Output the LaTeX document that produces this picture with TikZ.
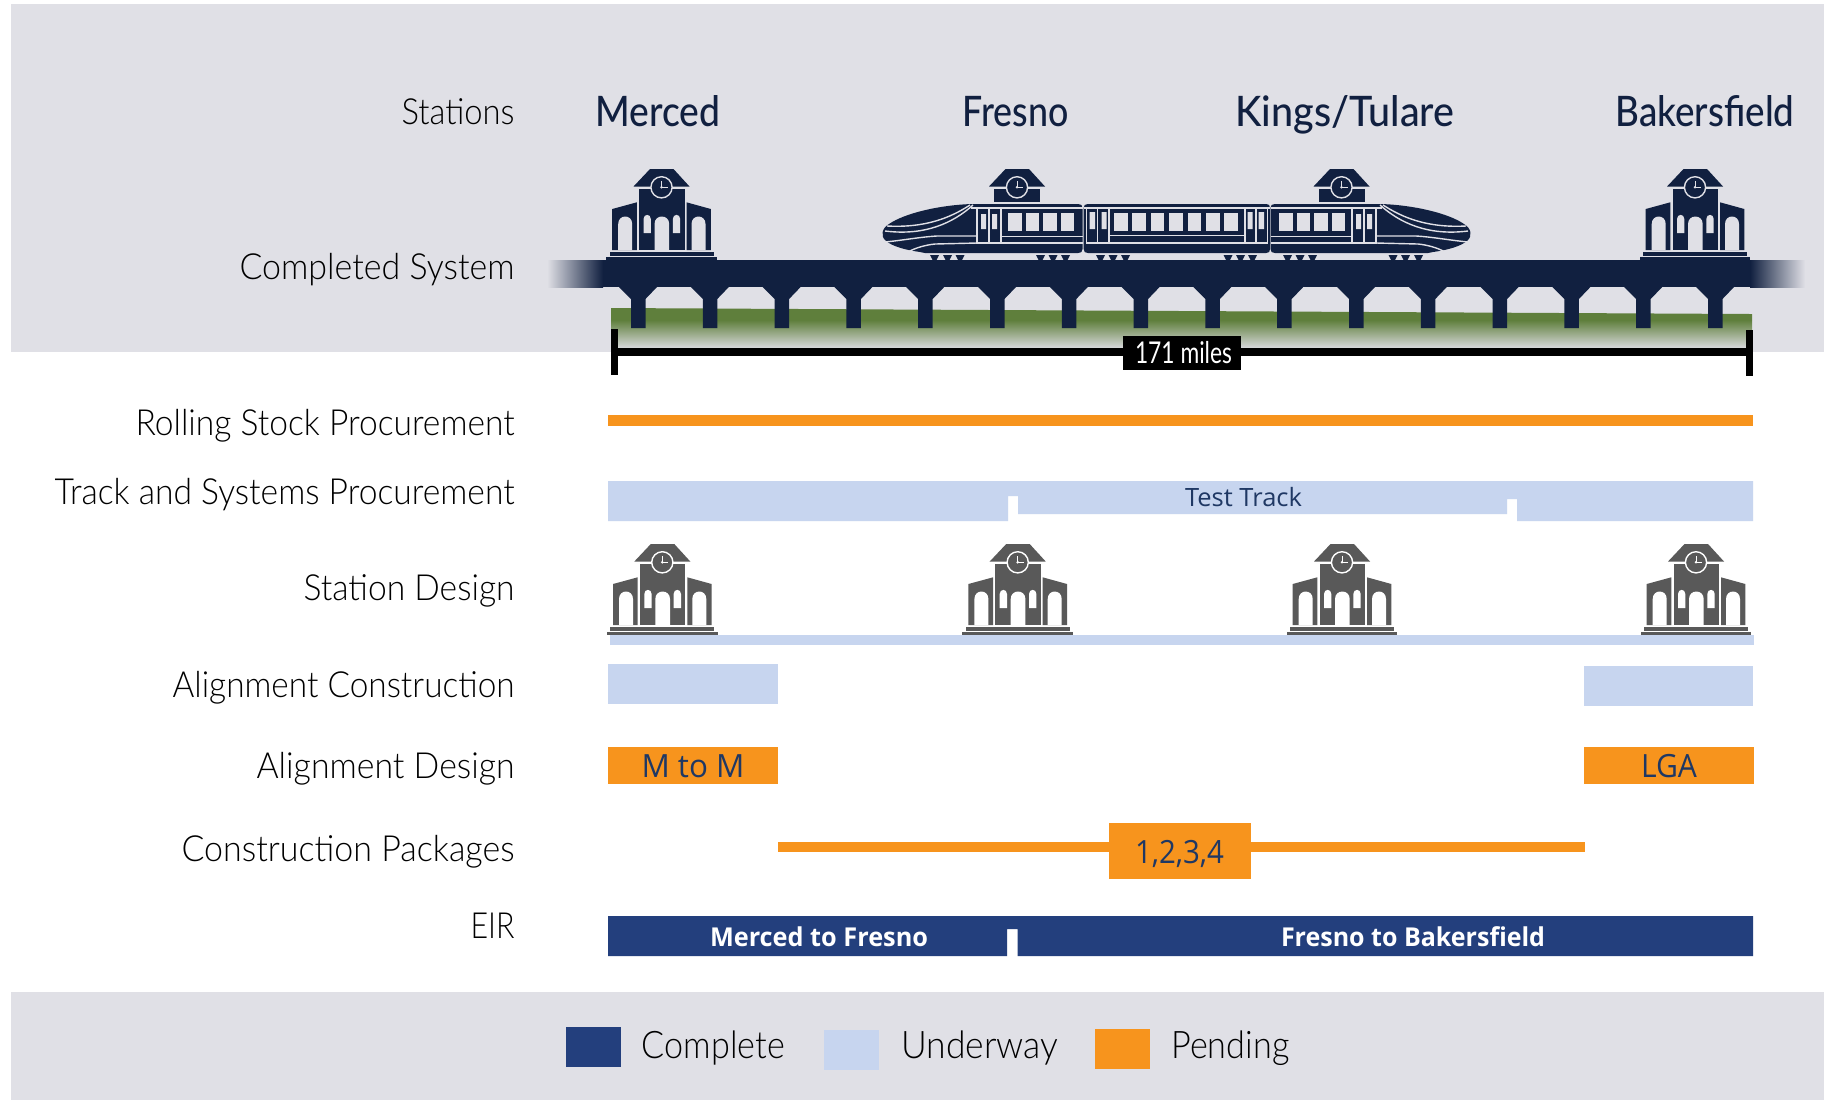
\documentclass[tikz,border=0pt]{standalone}
\usepackage{fontspec}
\usepackage{graphicx}
\newfontfamily\labf{Lato Light}
\newfontfamily\headf{Lato Medium}
\newfontfamily\midf{Lato}
\newfontfamily\barf{Open Sans}
\definecolor{band}{HTML}{E0E0E6}
\definecolor{navy}{HTML}{112040}
\definecolor{complete}{HTML}{233F7D}
\definecolor{underway}{HTML}{C7D5EF}
\definecolor{pending}{HTML}{F7941D}
\definecolor{icongray}{HTML}{595959}
\definecolor{grass}{HTML}{5F7F3C}
\definecolor{ink}{HTML}{1F3864}
\newlength{\pxu}\setlength{\pxu}{0.5pt}
\newcommand{\fitw}[2]{\resizebox{#1\pxu}{\height}{#2}}
\tikzset{
  lbl/.style={anchor=base east,inner sep=0pt,text=black,font=\labf\fontsize{18}{20}\selectfont},
  head/.style={anchor=base west,inner sep=0pt,text=navy,font=\headf\fontsize{21}{24}\selectfont},
  leg/.style={anchor=base west,inner sep=0pt,text=black,font=\labf\fontsize{19}{22}\selectfont},
  bartxt/.style={anchor=base,inner sep=0pt,text=ink,font=\barf\fontsize{16}{18}\selectfont},
  eirtxt/.style={anchor=base,inner sep=0pt,text=white,font=\barf\bfseries\fontsize{13}{15}\selectfont},
  hl/.style={draw=band,line width=0.7pt,fill=none}
}
% clock tower head: #1 body colour, #2 detail colour
\newcommand{\stationtop}[2]{%
  \fill[#1] (-11.5,-91) -- (12,-91) -- (28,-73.5) -- (-28,-73.5) -- cycle;
  \draw[#2,line width=0.7pt,fill=#1] (0,-72.7) circle[radius=10.6];
  \draw[#2,line width=0.35pt] (0,-72.7) -- (0,-79.5) (0,-72.7) -- (6,-72.7);
  \fill[#2] (0,-72.7) circle[radius=1.4];
}
\newcommand{\arch}[2]{(#1,-10) -- (#1,-36) .. controls (#1,-46) and (#2,-46) .. (#2,-36) -- (#2,-10) -- cycle}
\newcommand{\stationicon}[4]{%
  \begin{scope}[shift={(#1,#2)}]
    \fill[#3] (-22.5,-71.5) rectangle (23,-10);
    \fill[#3] (-49.3,-51) -- (-24.7,-57.7) -- (-24.7,-10) -- (-49.3,-10) -- cycle;
    \fill[#3] (49.3,-51) -- (25,-57.7) -- (25,-10) -- (49.3,-10) -- cycle;
    \fill[#4] \arch{-43.3}{-29.3} \arch{-7}{7.7} \arch{30}{44};
    \fill[#4] (-18,-27) -- (-18,-41) .. controls (-18,-46.5) and (-10.7,-46.5) .. (-10.7,-41) -- (-10.7,-27) -- cycle;
    \fill[#4] (11.3,-27) -- (11.3,-41) .. controls (11.3,-46.5) and (18.7,-46.5) .. (18.7,-41) -- (18.7,-27) -- cycle;
    \fill[#3] (-52,-8.3) rectangle (52,-4);
    \fill[#3] (-55.3,-2.7) rectangle (55.3,0);
    \stationtop{#3}{#4}
  \end{scope}
}
\newcommand{\towerhead}[2]{%
  \begin{scope}[shift={(#1,#2)}]
    \fill[navy] (-23,-71.5) rectangle (23,-58);
    \stationtop{navy}{band}
  \end{scope}
}
\newcommand{\truck}[1]{\fill[navy] (#1,255) -- (#1+9,255) -- (#1+6.5,260) -- (#1+2.5,260) -- cycle;}
\newcommand{\trainend}{%
  \fill[navy] (1078,204) -- (972,204) .. controls (940,205) and (905,213) .. (889,224)
    .. controls (882,228) and (880,236) .. (886,241) .. controls (892,246) and (905,250) .. (920,252)
    -- (925,253) -- (1078,253) .. controls (1081,253) and (1082.5,252) .. (1082.5,249)
    -- (1082.5,208) .. controls (1082.5,205) and (1081,204) .. (1078,204) -- cycle;
  \draw[hl] (970,205) .. controls (950,218) and (925,228) .. (887,226);
  \draw[hl] (973,205) .. controls (953,223) and (925,236) .. (885,231);
  \draw[hl] (977,236) -- (937,236) .. controls (920,237) and (905,240) .. (885,242);
  \draw[hl] (977,243) -- (935,244) .. controls (925,245) and (915,248) .. (908,252);
  \draw[hl] (971,208) -- (1082.5,208);
  \draw[hl] (977,208) rectangle (1001,243);
  \draw[hl] (989,208) -- (989,243);
  \draw[hl] (1001,236.5) -- (1082.5,236.5) (1001,243) -- (1082.5,243);
  \fill[band] (981,214) rectangle (986,229) (992,214) rectangle (997,229);
  \foreach \wx in {1008,1025.5,1043,1060.5} {\fill[band] (\wx,213) rectangle (\wx+13.5,231);}
  \foreach \wx in {930,943,955.5,1036,1048.5,1061} {\truck{\wx}}
}
\begin{document}
\begin{tikzpicture}[x=0.5pt,y=-0.5pt]
\useasboundingbox (0,0) rectangle (1824,1100);
\fill[white] (0,0) rectangle (1824,1100);
% bands
\fill[band] (11,3.5) rectangle (1824,352);
\fill[band] (11,992) rectangle (1824,1100);
% ground
\fill[grass] (611,308) -- (1752,314) -- (1752,320) -- (611,320) -- cycle;
\shade[top color=grass,bottom color=band!96!gray] (611,320) rectangle (1752,349);
% deck
\fill[navy] (603,260) rectangle (1750,287);
\shade[left color=band,right color=navy] (547,260) rectangle (603,287);
\shade[left color=navy,right color=band] (1750,260) rectangle (1805,287);
% piers
\foreach \k in {0,...,15} {
  \pgfmathsetmacro{\px}{631+71.8*\k}
  \fill[navy] (\px-12,287) -- (\px,299) -- (\px,328) -- (\px+14.5,328) -- (\px+14.5,299) -- (\px+26,287) -- cycle;
}
% stations on deck
\stationicon{661.5}{260}{navy}{band}
\stationicon{1695}{260}{navy}{band}
\towerhead{1017}{260}
\towerhead{1341.5}{260}
% train
\trainend
\begin{scope}[shift={(2353,0)},xscale=-1]
  \trainend
\end{scope}
\fill[navy] (1088,204) -- (1266,204) .. controls (1269,204) and (1270,205) .. (1270,208) -- (1270,249)
  .. controls (1270,252) and (1269,253) .. (1266,253) -- (1088,253) .. controls (1085,253) and (1083.7,252) .. (1083.7,249)
  -- (1083.7,208) .. controls (1083.7,205) and (1085,204) .. (1088,204) -- cycle;
\draw[hl] (1083.7,208) -- (1270,208);
\draw[hl] (1086.5,208) rectangle (1109,243) (1097.5,208) -- (1097.5,243);
\draw[hl] (1245,208) rectangle (1267.5,243) (1256,208) -- (1256,243);
\draw[hl] (1109,235.5) -- (1245,235.5) (1109,243) -- (1245,243);
\fill[band] (1089.5,212) rectangle (1095,229) (1101.5,212) rectangle (1106.5,229)
  (1247.5,212) rectangle (1252.5,229) (1258.5,212) rectangle (1264,229);
\foreach \k in {0,...,6} {\fill[band] (1114+18.4*\k,213) rectangle (1127.5+18.4*\k,231);}
\foreach \wx in {1096,1108.5,1121,1223.5,1236,1248} {\truck{\wx}}
% scale bar
\coordinate (barL) at (614.5,352);
\coordinate (barR) at (1749,352);
\draw[black,line width=4pt] (barL) -- (barR);
\draw[black,line width=3.5pt] (614.5,329) -- (614.5,375);
\draw[black,line width=3.5pt] (1749,330) -- (1749,376);
\fill[black] (1123,336) rectangle (1240.5,370);
\node[anchor=base,inner sep=0pt,text=white,font=\midf\fontsize{15}{17}\selectfont] (miles) at (1183.5,363) {\fitw{97}{171 miles}};
% rows
\fill[pending] (607.5,415) rectangle (1752.5,426);
\fill[underway] (608,481) -- (1753,481) -- (1753,521) -- (1517,521) -- (1517,499) -- (1507,499) -- (1507,514)
  -- (1018,514) -- (1018,496) -- (1008,496) -- (1008,521) -- (608,521) -- cycle;
\node[bartxt,font=\barf\fontsize{12.6}{15}\selectfont] (tt) at (1243.5,506) {\fitw{117}{Test Track}};
\fill[underway] (610,635) rectangle (1754,645);
\stationicon{662.3}{635}{icongray}{white}
\stationicon{1017.7}{635}{icongray}{white}
\stationicon{1342}{635}{icongray}{white}
\stationicon{1696}{635}{icongray}{white}
\fill[underway] (608,664) rectangle (778,704);
\fill[underway] (1584,666) rectangle (1753,706);
\fill[pending] (608,747) rectangle (778,784);
\fill[pending] (1584,747) rectangle (1754,784);
\node[bartxt] (mm) at (693,777) {\fitw{103}{M to M}};
\node[bartxt] (lga) at (1669,777) {\fitw{56}{LGA}};
\fill[pending] (778,842) rectangle (1585,852);
\fill[pending] (1109,823) rectangle (1251,879);
\node[bartxt] (cp) at (1179.5,863) {\fitw{89}{1,2,3,4}};
\fill[complete] (608,916) -- (1753,916) -- (1753,956) -- (1017.5,956) -- (1017.5,929) -- (1007,929) -- (1007,956) -- (608,956) -- cycle;
\node[eirtxt] (mf) at (819,946) {\fitw{218}{Merced to Fresno}};
\node[eirtxt] (fb) at (1413,946) {\fitw{264}{Fresno to Bakersfield}};
% labels
\node[lbl] (l1) at (515,124) {\fitw{113}{Stations}};
\node[lbl] (l2) at (515,279) {\fitw{275}{Completed System}};
\node[lbl] (l3) at (515,435) {\fitw{379}{Rolling Stock Procurement}};
\node[lbl] (l4) at (515,504) {\fitw{460}{Track and Systems Procurement}};
\node[lbl] (l5) at (515,600) {\fitw{211}{Station Design}};
\node[lbl] (l6) at (515,697) {\fitw{342}{Alignment Construction}};
\node[lbl] (l7) at (515,778) {\fitw{258}{Alignment Design}};
\node[lbl] (l8) at (515,861) {\fitw{333}{Construction Packages}};
\node[lbl] (l9) at (515,938) {\fitw{44}{EIR}};
% headers
\node[head] (h1) at (595,126) {\fitw{125}{Merced}};
\node[head] (h2) at (962,126) {\fitw{106}{Fresno}};
\node[head] (h3) at (1235,126) {\fitw{219}{Kings/Tulare}};
\node[head] (h4) at (1615,126) {\fitw{179}{Bakersfield}};
% legend
\fill[complete] (566,1027) rectangle (621,1067);
\fill[underway] (824,1030) rectangle (879,1070);
\fill[pending] (1095,1029) rectangle (1150,1069);
\node[leg] (g1) at (641.5,1058) {\fitw{143}{Complete}};
\node[leg] (g2) at (901,1058) {\fitw{157}{Underway}};
\node[leg] (g3) at (1171,1058) {\fitw{118}{Pending}};
\end{tikzpicture}
\end{document}
